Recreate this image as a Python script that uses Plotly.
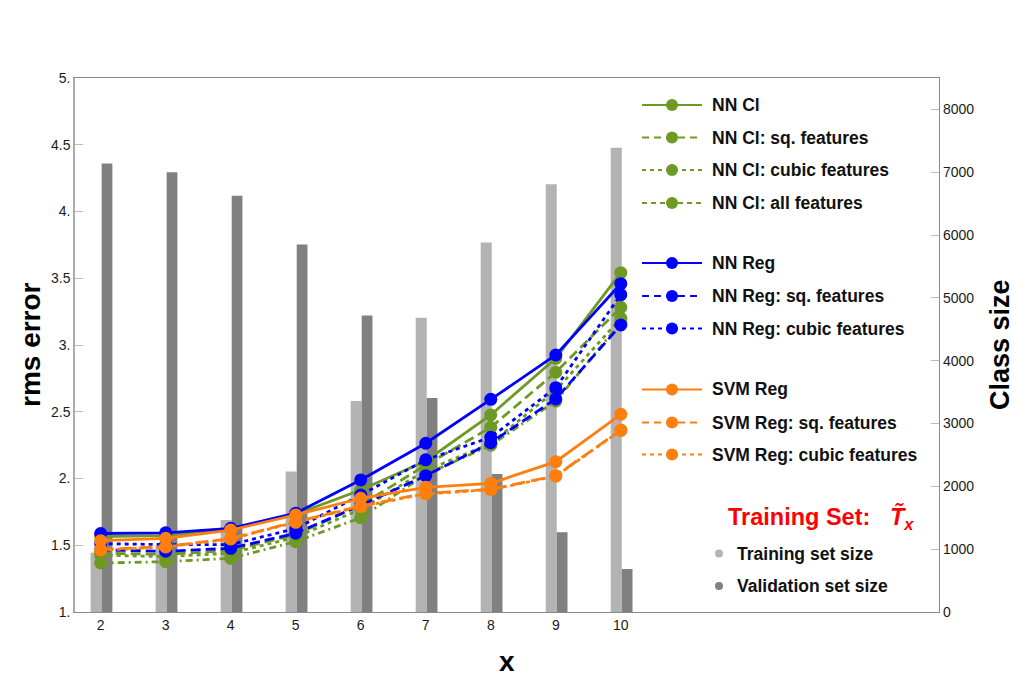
import plotly.graph_objects as go

# ---------------- data ----------------
x_vals = [2, 3, 4, 5, 6, 7, 8, 9, 10]

train_sizes = [945, 1065, 1465, 2235, 3360, 4685, 5880, 6810, 7390]
valid_sizes = [7140, 7000, 6625, 5850, 4720, 3405, 2195, 1270, 685]

nn_cl        = [1.565, 1.572, 1.620, 1.732, 1.914, 2.131, 2.476, 2.900, 3.542]
nn_cl_sq     = [1.440, 1.432, 1.460, 1.580, 1.800, 2.100, 2.383, 2.796, 3.282]
nn_cl_cubic  = [1.425, 1.415, 1.440, 1.560, 1.770, 2.060, 2.262, 2.660, 3.200]
nn_cl_all    = [1.367, 1.377, 1.402, 1.527, 1.706, 2.030, 2.250, 2.580, 3.170]
nn_reg       = [1.588, 1.593, 1.627, 1.740, 1.989, 2.264, 2.593, 2.925, 3.459]
nn_reg_sq    = [1.465, 1.455, 1.477, 1.590, 1.800, 2.021, 2.268, 2.596, 3.150]
nn_reg_cubic = [1.512, 1.505, 1.505, 1.625, 1.876, 2.140, 2.309, 2.680, 3.377]
svm_reg      = [1.534, 1.552, 1.614, 1.727, 1.852, 1.934, 1.964, 2.126, 2.481]
svm_reg_sq   = [1.468, 1.490, 1.550, 1.676, 1.794, 1.889, 1.919, 2.021, 2.363]
svm_reg_cub  = [1.463, 1.487, 1.547, 1.672, 1.790, 1.885, 1.916, 2.018, 2.360]

y_tick_vals = [1, 1.5, 2, 2.5, 3, 3.5, 4, 4.5, 5]
y_tick_text = ["1.", "1.5", "2.", "2.5", "3.", "3.5", "4.", "4.5", "5."]
y2_tick_vals = [0, 1000, 2000, 3000, 4000, 5000, 6000, 7000, 8000]

# ---------------- styles ----------------
GREEN = "#6E9A24"
BLUE = "#0000FF"
ORANGE = "#FF7F0E"
LIGHT = "#B3B3B3"
DARK = "#808080"
FONT = "Liberation Sans, Arial, sans-serif"

series = [
    ("NN Cl", nn_cl, GREEN, "solid", "solid"),
    ("NN Cl: sq. features", nn_cl_sq, GREEN, "10px,5px", "7px,5px"),
    ("NN Cl: cubic features", nn_cl_cubic, GREEN, "4px,4px", "4px,4px"),
    ("NN Cl: all features", nn_cl_all, GREEN, "7px,4px,2px,4px", "5px,4px"),
    ("NN Reg", nn_reg, BLUE, "solid", "solid"),
    ("NN Reg: sq. features", nn_reg_sq, BLUE, "10px,5px", "7px,5px"),
    ("NN Reg: cubic features", nn_reg_cubic, BLUE, "4px,4px", "4px,4px"),
    ("SVM Reg", svm_reg, ORANGE, "solid", "solid"),
    ("SVM Reg: sq. features", svm_reg_sq, ORANGE, "13px,6px", "7px,5px"),
    ("SVM Reg: cubic features", svm_reg_cub, ORANGE, "4px,4px", "4px,4px"),
]
legend_rows = [105, 137.5, 170, 203, 263, 296, 328.5, 389.5, 422.5, 454.5]

W, H = 1015, 690
ML, MR, MT, MB = 75, 76, 78, 78
PX0, PX1, PY0, PY1 = ML, W - MR, MT, H - MB


def paper_x(px):
    return (px - PX0) / (PX1 - PX0)


def paper_y(py):
    return (PY1 - py) / (PY1 - PY0)


fig = go.Figure()

# bars (base y axis, right side)
fig.add_trace(go.Bar(x=x_vals, y=train_sizes, width=0.17, offset=-0.155,
                     marker=dict(color=LIGHT, line=dict(width=0)),
                     xaxis="x", yaxis="y", showlegend=False))
fig.add_trace(go.Bar(x=x_vals, y=valid_sizes, width=0.165, offset=0.015,
                     marker=dict(color=DARK, line=dict(width=0)),
                     xaxis="x", yaxis="y", showlegend=False))

# lines (overlay y2 axis, left side), drawn in legend order
for name, vals, col, dash, _ in series:
    fig.add_trace(go.Scatter(x=x_vals, y=vals, mode="lines+markers", name=name,
                             line=dict(color=col, width=2.8, dash=dash),
                             marker=dict(color=col, size=13, opacity=1),
                             xaxis="x", yaxis="y2", showlegend=False,
                             cliponaxis=False))

# manual legend keys (pixel-space overlay axes)
for (name, vals, col, _, ldash), row in zip(series, legend_rows):
    fig.add_trace(go.Scatter(x=[642, 672, 702], y=[row, row, row],
                             mode="lines+markers",
                             line=dict(color=col, width=2, dash=ldash),
                             marker=dict(color=col, size=[0, 12, 0], opacity=1,
                                         line=dict(width=0)),
                             xaxis="x3", yaxis="y3", showlegend=False,
                             hoverinfo="skip", cliponaxis=False))
    fig.add_annotation(x=paper_x(710), y=paper_y(row), xref="paper", yref="paper",
                       text="<b>" + name + "</b>", showarrow=False,
                       xanchor="left", yanchor="middle",
                       font=dict(family=FONT, size=17.5, color="#111111"))

fig.add_trace(go.Scatter(x=[719, 719], y=[553.5, 586], mode="markers",
                         marker=dict(color=[LIGHT, DARK], size=8, opacity=1),
                         xaxis="x3", yaxis="y3", showlegend=False,
                         hoverinfo="skip", cliponaxis=False))
fig.add_annotation(x=paper_x(735), y=paper_y(553.5), xref="paper", yref="paper",
                   text="<b>Training set size</b>", showarrow=False,
                   xanchor="left", yanchor="middle",
                   font=dict(family=FONT, size=17.5, color="#111111"))
fig.add_annotation(x=paper_x(735), y=paper_y(586), xref="paper", yref="paper",
                   text="<b>Validation set size</b>", showarrow=False,
                   xanchor="left", yanchor="middle",
                   font=dict(family=FONT, size=17.5, color="#111111"))
fig.add_annotation(x=paper_x(726), y=paper_y(518), xref="paper", yref="paper",
                   text="<b>Training Set:\u00a0\u00a0\u00a0<i>T\u0303</i><sub><i>x</i></sub></b>",
                   showarrow=False, xanchor="left", yanchor="middle",
                   font=dict(family=FONT, size=23.5, color="#FF0000"))

# axis titles
fig.add_annotation(x=paper_x(30), y=0.5, xref="paper", yref="paper",
                   text="<b>rms error</b>", textangle=-90, showarrow=False,
                   xanchor="center", yanchor="middle",
                   font=dict(family=FONT, size=28, color="#000000"))
fig.add_annotation(x=paper_x(1000), y=0.5, xref="paper", yref="paper",
                   text="<b>Class size</b>", textangle=-90, showarrow=False,
                   xanchor="center", yanchor="middle",
                   font=dict(family=FONT, size=27, color="#000000"))
fig.add_annotation(x=paper_x(507), y=paper_y(661), xref="paper", yref="paper",
                   text="<b>x</b>", showarrow=False,
                   xanchor="center", yanchor="middle",
                   font=dict(family=FONT, size=28, color="#000000"))

tickfont = dict(family=FONT, size=14, color="#1A1A1A")

fig.update_layout(
    width=W, height=H,
    margin=dict(l=ML, r=MR, t=MT, b=MB, pad=0),
    paper_bgcolor="white", plot_bgcolor="rgba(0,0,0,0)",
    barmode="overlay",
    showlegend=False,
    xaxis=dict(range=[1.605, 14.894], tickvals=x_vals, ticktext=[str(v) for v in x_vals],
               showgrid=False, zeroline=False, showline=True, linecolor="#8A8A8A",
               linewidth=1.2, mirror=True, ticks="", tickfont=tickfont, anchor="y"),
    yaxis=dict(range=[0, 8500], side="right", tickvals=y2_tick_vals,
               showgrid=False, zeroline=False, showline=True, linecolor="#8A8A8A",
               linewidth=1.2, ticks="inside", ticklen=8, tickcolor="#BBBBBB",
               tickfont=tickfont, anchor="x"),
    yaxis2=dict(range=[1, 5], side="left", overlaying="y", tickvals=y_tick_vals,
                ticktext=y_tick_text, showgrid=False, zeroline=False, showline=True,
                linecolor="#AAAAAA", linewidth=1.5, ticks="inside", ticklen=8,
                tickcolor="#BBBBBB", tickfont=tickfont, anchor="x"),
    xaxis3=dict(range=[PX0, PX1], domain=[0, 1], visible=False, anchor="y3",
                fixedrange=True),
    yaxis3=dict(range=[PY1, PY0], domain=[0, 1], visible=False, anchor="x3",
                fixedrange=True),
)

fig.write_html("out.html")
